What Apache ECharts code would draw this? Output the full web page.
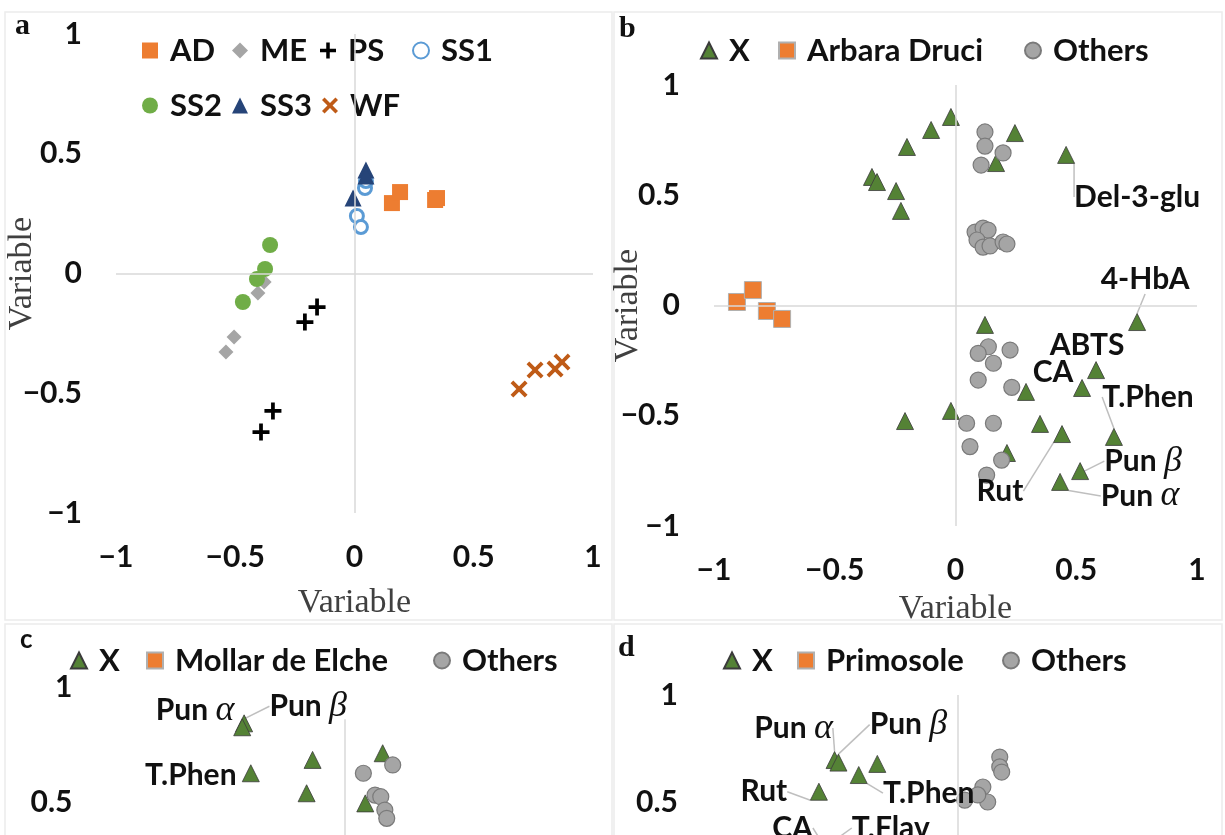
<!DOCTYPE html>
<html><head><meta charset="utf-8">
<script src="https://cdn.jsdelivr.net/npm/echarts@6/dist/echarts.min.js"></script>
<style>html,body{margin:0;padding:0;background:#fff}#c{width:1225px;height:835px}</style>
</head><body><div id="c"></div>
<script>
// ---------- data ----------
const ticks = [-1, -0.5, 0, 0.5, 1];
const axisTitle = 'Variable';
// panel a
const aAD  = [[0.157,0.294],[0.191,0.340],[0.338,0.307],[0.346,0.315]];
const aME  = [[-0.405,-0.081],[-0.379,-0.035],[-0.505,-0.265],[-0.539,-0.328]];
const aPS  = [[-0.157,-0.140],[-0.208,-0.203],[-0.342,-0.574],[-0.392,-0.662]];
const aSS1 = [[0.044,0.357],[0.048,0.386],[0.010,0.240],[0.027,0.194]];
const aSS2 = [[-0.354,0.119],[-0.375,0.019],[-0.409,-0.023],[-0.468,-0.119]];
const aSS3 = [[0.048,0.432],[0.048,0.407],[-0.006,0.315]];
const aWF  = [[0.690,-0.482],[0.757,-0.403],[0.841,-0.399],[0.870,-0.370]];
// panel b
const bX = [[-0.019,0.855],[-0.101,0.796],[-0.201,0.719],[-0.346,0.583],[-0.325,0.560],[-0.246,0.519],[-0.226,0.429],[0.246,0.782],[0.168,0.646],[0.458,0.683],
            [0.122,-0.088],[0.752,-0.075],[0.582,-0.293],[0.524,-0.374],[0.292,-0.392],[-0.019,-0.478],[-0.209,-0.524],[0.350,-0.537],[0.441,-0.583],[0.656,-0.596],[0.213,-0.669],[0.516,-0.751],[0.433,-0.800]];
const bXLabels = ['','','','','','','','','','Del-3-glu','','4-HbA','ABTS','CA','','','','','Rut','T.Phen','','Pun β','Pun α'];
const bAD = [[-0.905,0.016],[-0.839,0.070],[-0.781,-0.025],[-0.718,-0.061]];
const bOthers = [[0.122,0.787],[0.122,0.723],[0.197,0.692],[0.106,0.637],
                 [0.081,0.333],[0.114,0.351],[0.135,0.342],[0.089,0.297],[0.114,0.265],[0.143,0.270],[0.197,0.288],[0.213,0.279],
                 [0.136,-0.187],[0.094,-0.217],[0.226,-0.202],[0.157,-0.262],[0.094,-0.338],[0.233,-0.371],[0.046,-0.534],[0.157,-0.534],[0.060,-0.640],[0.191,-0.701],[0.129,-0.769]];
// panel c (only top part visible)
const cX = [[-0.423,0.842],[-0.431,0.825],[-0.395,0.625],[-0.136,0.683],[-0.161,0.538],[0.158,0.712],[0.085,0.494]];
const cXLabels = ['Pun α','Pun β','T.Phen','','','',''];
const cME = [];
const cOthers = [[0.077,0.625],[0.200,0.661],[0.126,0.530],[0.150,0.523],[0.167,0.465],[0.175,0.429]];
// panel d (only top part visible)
const dX = [[-0.509,0.696],[-0.493,0.684],[-0.332,0.678],[-0.409,0.626],[-0.574,0.548],[-0.504,0.285],[-0.538,0.229]];
const dXLabels = ['Pun α','Pun β','','T.Phen','Rut','T.Flav','CA'];
const dPS = [];
const dOthers = [[0.175,0.710],[0.175,0.664],[0.183,0.640],[0.105,0.570],[0.125,0.500],[0.030,0.509],[0.084,0.533]];

// ---------- styles ----------
const SANS = 'Lato';
const SERIF = 'Liberation Serif';
const TXT = '#111';
const labelOffsets = {
  b: {'Del-3-glu':[71,42,1],'4-HbA':[8,-43,1],'ABTS':[-9,-25,0],'CA':[-29,-16,0],'Rut':[-62,57,1],'T.Phen':[34,-40,1],'Pun β':[63,-10,1],'Pun α':[80,14,1]},
  c: {'Pun α':[-49,-13,0],'Pun β':[66,-21,1],'T.Phen':[-60,2,0]},
  d: {'Pun α':[-41,-32,1],'Pun β':[70,-38,1],'T.Phen':[70,18,1],'Rut':[-55,0,1],'T.Flav':[55,-20,1],'CA':[-35,-32,1]}
};
const plusPath = 'path://M3.9,0H6.1V3.9H10V6.1H6.1V10H3.9V6.1H0V3.9H3.9Z';
const crossPath = 'path://M1.6,0L5,3.4L8.4,0L10,1.6L6.6,5L10,8.4L8.4,10L5,6.6L1.6,10L0,8.4L3.4,5L0,1.6Z';
const tri = {color:'#548235', borderColor:'#3b3b3b', borderWidth:0.8, opacity:1};
const gry = {color:'#A5A5A5', borderColor:'#7a7a7a', borderWidth:1.2, opacity:1};
const org = {color:'#ED7D31', borderColor:'#b0b0b0', borderWidth:1, opacity:1};

const fmt = v => (v < 0 ? '\u2212' : '') + Math.abs(v);

const grids = [
  {left:116, top:34, width:477, height:479},
  {left:714, top:85, width:483, height:441},
  {left:106.5, top:687, width:477, height:460},
  {left:716, top:695, width:483, height:428}
].map(g => Object.assign({outerBoundsMode:'none', containLabel:false}, g));

function axis(i, margin, gap){
  return {gridIndex:i, type:'value', min:-1, max:1,
    axisLine:{show:false}, axisTick:{show:false}, splitLine:{show:false},
    axisLabel:{customValues:ticks, formatter:fmt, fontFamily:SANS, fontWeight:'bold', fontSize:30, color:TXT, margin:margin},
    name:axisTitle, nameLocation:'middle', nameGap:gap, nameMoveOverlap:false,
    nameTextStyle:{fontFamily:SERIF, fontSize:34, color:'#404040'}};
}

function zeroLines(i, data){
  return {type:'scatter', name:'_zero'+i, xAxisIndex:i, yAxisIndex:i, data:[], z:1,
    markLine:{silent:true, symbol:'none', animation:false, label:{show:false},
      lineStyle:{color:'#D9D9D9', width:1.5, type:'solid'}, data:data}};
}

function sc(name, data, i, symbol, size, style, extra){
  return Object.assign({type:'scatter', name:name, xAxisIndex:i, yAxisIndex:i, data:data,
    symbol:symbol, symbolSize:size, itemStyle:Object.assign({opacity:1}, style), z:2}, extra || {});
}

function labeled(name, pts, names, panel, i){
  const offs = labelOffsets[panel];
  const data = pts.map((p, k) => {
    const n = names[k];
    const o = n ? offs[n] : null;
    return {value:p, label:{show:!!n}, labelLine:{show:!!(o && o[2])}};
  });
  return sc(name, data, i, 'triangle', 17, tri, {
    label:{show:false, position:'inside', fontFamily:SANS, fontWeight:'bold', fontSize:30, color:TXT,
      formatter: p => names[p.dataIndex].replace(/([αβ])/, '{g|$1}'),
      rich:{g:{fontFamily:SERIF, fontStyle:'italic', fontWeight:'normal', fontSize:36, color:TXT}}},
    labelLine:{show:false, lineStyle:{color:'#BFBFBF', width:1.5}},
    labelLayout: function(p){
      const n = names[p.dataIndex];
      const o = n ? offs[n] : null;
      if (!o) return {};
      return {x: p.rect.x + p.rect.width/2 + o[0], y: p.rect.y + p.rect.height/2 + o[1], align:'center', verticalAlign:'middle'};
    }
  });
}

const legText = {fontFamily:SANS, fontWeight:'bold', fontSize:31, color:TXT, padding:[0,0,0,7]};
// one legend entry per component, placed by icon centre
function leg(name, cx, cy){
  return {data:[name], left:cx-8, top:cy-15, itemWidth:16, itemHeight:16, padding:0,
    textStyle:legText, selectedMode:false};
}

const option = {
  animation:false,
  backgroundColor:'#fff',
  title:[
    {text:'a', left:10, top:6, textStyle:{fontFamily:SERIF, fontWeight:'bold', fontSize:30, color:TXT}},
    {text:'b', left:614, top:9, textStyle:{fontFamily:SERIF, fontWeight:'bold', fontSize:30, color:TXT}},
    {text:'c', left:15, top:622, textStyle:{fontFamily:SANS, fontWeight:'bold', fontSize:26, color:TXT}},
    {text:'d', left:613, top:628, textStyle:{fontFamily:SERIF, fontWeight:'bold', fontSize:30, color:TXT}}
  ],
  graphic:[
    {type:'rect', shape:{x:5, y:12, width:607, height:608}, style:{fill:'none', stroke:'#ECECEC', lineWidth:1.5}, silent:true},
    {type:'rect', shape:{x:614, y:12, width:608, height:608}, style:{fill:'none', stroke:'#ECECEC', lineWidth:1.5}, silent:true},
    {type:'rect', shape:{x:5, y:624, width:607, height:240}, style:{fill:'none', stroke:'#ECECEC', lineWidth:1.5}, silent:true},
    {type:'rect', shape:{x:614, y:624, width:608, height:240}, style:{fill:'none', stroke:'#ECECEC', lineWidth:1.5}, silent:true}
  ],
  legend:[
    leg('AD',150,50), leg('ME',240,50), leg('PS',328,50), leg('SS1',420,50),
    leg('SS2',150,105), leg('SS3',240,105), leg('WF',330,105),
    leg('X',708,50), leg('Arbara Druci',786,50), leg('Others',1032,50),
    leg('X',78,660), leg('Mollar de Elche',154,660), leg('Others',441,660),
    leg('X',731,660), leg('Primosole',805,660), leg('Others',1010,660)
  ],
  grid:grids,
  xAxis:[axis(0,29,73), axis(1,29,66), axis(2,29,70), axis(3,29,70)],
  yAxis:[axis(0,34,77), axis(1,34,69), axis(2,34,77), axis(3,38,69)],
  series:[
    zeroLines(0, [{xAxis:0},{yAxis:0}]),
    zeroLines(1, [{xAxis:0},{yAxis:0}]),
    zeroLines(2, [[{coord:[0,-1]},{coord:[0,0.86]}],{yAxis:0}]),
    zeroLines(3, [{xAxis:0},{yAxis:0}]),
    sc('AD', aAD, 0, 'rect', 16, {color:'#ED7D31'}),
    sc('ME', aME, 0, 'diamond', 15, {color:'#A5A5A5'}),
    sc('PS', aPS, 0, plusPath, 17, {color:'#000'}),
    sc('SS1', aSS1, 0, 'circle', 13, {color:'#fff', borderColor:'#5B9BD5', borderWidth:3}),
    sc('SS2', aSS2, 0, 'circle', 16, {color:'#70AD47'}),
    sc('SS3', aSS3, 0, 'triangle', 17, {color:'#264478'}),
    sc('WF', aWF, 0, crossPath, 17, {color:'#BF5B17'}),
    labeled('X', bX, bXLabels, 'b', 1),
    sc('Arbara Druci', bAD, 1, 'rect', 17, org),
    sc('Others', bOthers, 1, 'circle', 16, gry),
    labeled('X', cX, cXLabels, 'c', 2),
    sc('Mollar de Elche', cME, 2, 'rect', 17, org),
    sc('Others', cOthers, 2, 'circle', 16, gry),
    labeled('X', dX, dXLabels, 'd', 3),
    sc('Primosole', dPS, 3, 'rect', 17, org),
    sc('Others', dOthers, 3, 'circle', 16, gry)
  ]
};
const chart = echarts.init(document.getElementById('c'), null, {renderer:'canvas'});
chart.setOption(option);
</script></body></html>
